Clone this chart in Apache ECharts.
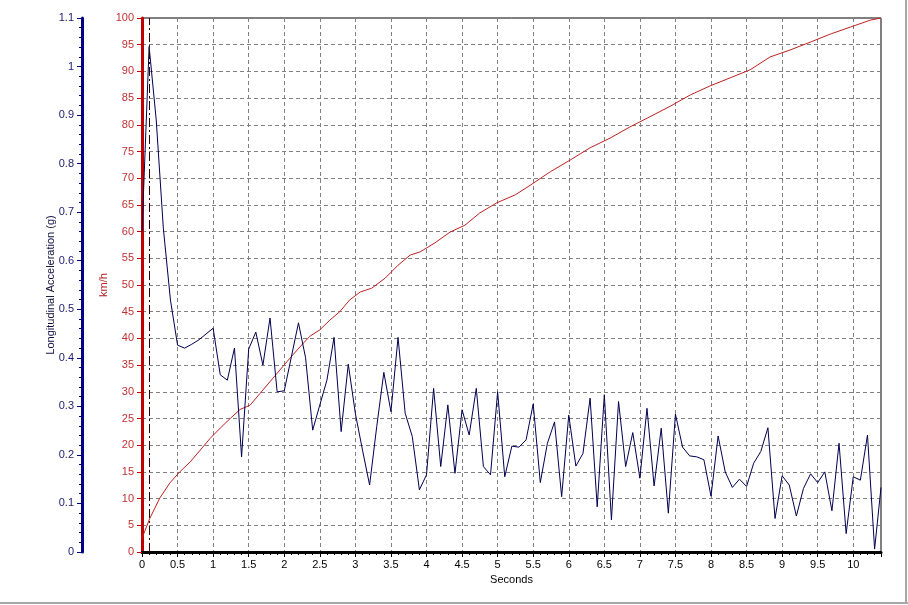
<!DOCTYPE html>
<html><head><meta charset="utf-8">
<script src="https://cdn.jsdelivr.net/npm/echarts@6/dist/echarts.min.js"></script>
<style>html,body{margin:0;padding:0;background:#fff}#c{width:908px;height:605px}</style>
</head><body><div id="c"></div>
<script>
// Longitudinal acceleration (g), sampled every 0.1 s from 0 to 10.3 s, plus final sample at 10.39 s
const accelG = [
  0.66, 1.041, 0.89, 0.667, 0.519, 0.426, 0.420, 0.428, 0.437, 0.449,
  0.461, 0.365, 0.354, 0.420, 0.196, 0.418, 0.453, 0.385, 0.482, 0.330,
  0.332, 0.402, 0.472, 0.400, 0.251, 0.303, 0.354, 0.442, 0.248, 0.387,
  0.285, 0.21, 0.138, 0.258, 0.370, 0.289, 0.442, 0.286, 0.238, 0.128,
  0.159, 0.337, 0.176, 0.303, 0.162, 0.293, 0.241, 0.337, 0.176, 0.159,
  0.330, 0.155, 0.218, 0.216, 0.231, 0.305, 0.143, 0.224, 0.268, 0.114,
  0.282, 0.177, 0.203, 0.317, 0.093, 0.324, 0.066, 0.310, 0.176, 0.246,
  0.152, 0.296, 0.136, 0.255, 0.080, 0.284, 0.216, 0.198, 0.196, 0.190,
  0.115, 0.239, 0.165, 0.133, 0.150, 0.135, 0.183, 0.207, 0.256, 0.069,
  0.157, 0.138, 0.074, 0.131, 0.161, 0.143, 0.165, 0.085, 0.224, 0.038,
  0.155, 0.148, 0.241, 0.006, 0.133
];
const accelSampleStep = 0.1;
const accelLastTime = 10.39;

// Speed (km/h) read at these times (s)
const speedTime = [0, 0.11, 0.25, 0.39, 0.53, 0.68, 0.82, 0.96, 1.10, 1.24,
  1.38, 1.52, 1.66, 1.80, 1.94, 2.08, 2.22, 2.36, 2.50, 2.64,
  2.78, 2.92, 3.07, 3.23, 3.42, 3.60, 3.77, 3.91, 4.12, 4.33,
  4.54, 4.75, 4.99, 5.25, 5.46, 5.74, 6.02, 6.30, 6.58, 6.86,
  7.14, 7.43, 7.71, 7.99, 8.27, 8.55, 8.83, 9.11, 9.40, 9.68,
  9.96, 10.24, 10.39];
const speedKmh = [2.6, 6.3, 10.1, 12.9, 15.0, 16.9, 19.1, 21.3, 23.2, 25.0,
  26.7, 27.5, 29.7, 31.9, 34.1, 36.3, 38.4, 40.4, 41.6, 43.4,
  45.0, 47.2, 48.7, 49.4, 51.3, 53.7, 55.6, 56.2, 57.9, 59.9,
  61.2, 63.5, 65.4, 66.9, 68.7, 71.2, 73.4, 75.7, 77.5, 79.6,
  81.5, 83.5, 85.6, 87.3, 88.8, 90.3, 92.7, 94.0, 95.5, 97.0,
  98.3, 99.6, 100.0];

const markerTime = 0.1; // dash-dot cursor line
const xRange = [0, 10.39];
const speedRange = [0, 100];
const accelRange = [0, 1.1];

const accelData = accelG.map((v, i) => [i === accelG.length - 1 ? accelLastTime : +(i * accelSampleStep).toFixed(2), v]);
const speedData = speedTime.map((t, i) => [t, speedKmh[i]]);

const FONT = 'Liberation Sans, Arial, sans-serif';
const chart = echarts.init(document.getElementById('c'), null, {renderer: 'canvas'});
chart.setOption({
  backgroundColor: '#fff',
  animation: false,
  grid: {left: 142, top: 18, right: 27, bottom: 53, show: true, borderColor: '#000', borderWidth: 1, backgroundColor: 'transparent'},
  xAxis: {
    type: 'value', min: xRange[0], max: xRange[1], interval: 0.5,
    name: 'Seconds', nameLocation: 'middle', nameGap: 22, nameMoveOverlap: false,
    nameTextStyle: {color: '#000', fontFamily: FONT, fontSize: 11},
    axisLine: {show: true, onZero: false, lineStyle: {color: '#000', width: 3}},
    axisTick: {show: true, length: 5, lineStyle: {color: '#000'}},
    minorTick: {show: true, splitNumber: 5, length: 3, lineStyle: {color: '#000'}},
    axisLabel: {color: '#000', fontFamily: FONT, fontSize: 11, margin: 7, showMaxLabel: false},
    splitLine: {show: true, lineStyle: {color: '#808080', type: [4, 3], width: 1}}
  },
  yAxis: [
    {
      type: 'value', min: speedRange[0], max: speedRange[1], interval: 5, position: 'left', offset: 0,
      name: 'km/h', nameLocation: 'middle', nameGap: 33, nameMoveOverlap: false,
      nameTextStyle: {color: '#b02020', fontFamily: FONT, fontSize: 11},
      axisLine: {show: true, onZero: false, lineStyle: {color: '#c00000', width: 3}},
      axisTick: {show: true, length: 5, lineStyle: {color: '#c00000'}},
      axisLabel: {color: '#c03030', fontFamily: FONT, fontSize: 11, margin: 8},
      splitLine: {show: true, lineStyle: {color: '#808080', type: [4, 3], width: 1}}
    },
    {
      type: 'value', min: accelRange[0], max: accelRange[1], interval: 0.1, position: 'left', offset: 60,
      name: 'Longitudinal Acceleration (g)', nameLocation: 'middle', nameGap: 26, nameMoveOverlap: false,
      nameTextStyle: {color: '#101040', fontFamily: FONT, fontSize: 11},
      axisLine: {show: true, onZero: false, lineStyle: {color: '#000080', width: 3}},
      axisTick: {show: true, length: 5, lineStyle: {color: '#000080'}},
      minorTick: {show: true, splitNumber: 5, length: 3, lineStyle: {color: '#000080'}},
      axisLabel: {color: '#1a1a70', fontFamily: FONT, fontSize: 11, margin: 8},
      splitLine: {show: false}
    }
  ],
  series: [
    {
      type: 'line', name: 'km/h', yAxisIndex: 0, data: speedData, showSymbol: false, symbol: 'none',
      lineStyle: {color: '#c02020', width: 1}, z: 3,
      markLine: {
        silent: true, symbol: ['none', 'none'], label: {show: false},
        lineStyle: {color: '#300000', type: [9, 3, 2, 3], width: 1},
        data: [{xAxis: markerTime}]
      }
    },
    {
      type: 'line', name: 'Longitudinal Acceleration', yAxisIndex: 1, data: accelData, showSymbol: false, symbol: 'none',
      lineStyle: {color: '#000050', width: 1}, z: 4
    }
  ],
  graphic: [
    {type: 'line', shape: {x1: 906, y1: 0, x2: 906, y2: 604}, style: {stroke: '#a8a8a8', lineWidth: 2}, silent: true},
    {type: 'line', shape: {x1: 0, y1: 603, x2: 908, y2: 603}, style: {stroke: '#a8a8a8', lineWidth: 2}, silent: true}
  ]
});
</script></body></html>
